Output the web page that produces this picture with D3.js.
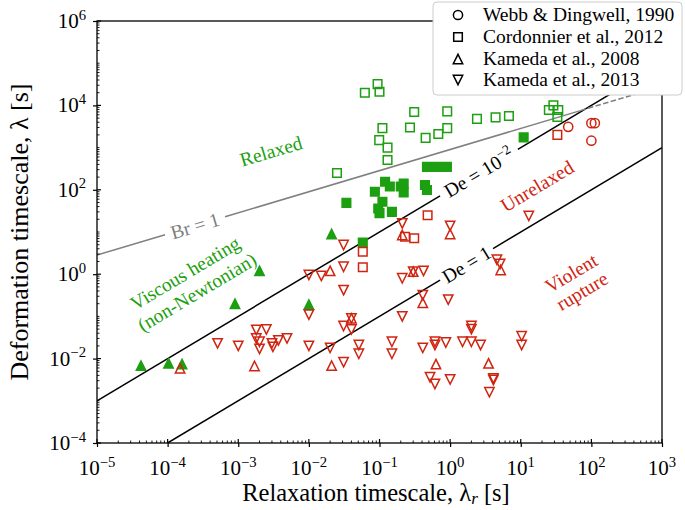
<!DOCTYPE html>
<html><head><meta charset="utf-8">
<script src="https://cdn.jsdelivr.net/npm/d3@7"></script>
<style>body{margin:0;background:#fff}svg{display:block;font-family:"Liberation Serif","Times New Roman",serif}</style>
</head><body><svg id="c" width="685" height="510"></svg>
<script>
// ---- data: [relaxation timescale λr (s), deformation timescale λ (s)] ----
const webb1990 = [[47,3100],[100,3800],[112,3800],[100,1460]];
const cordonnierRelaxed = [[0.094,3.2e4],[0.062,2.0e4],[0.10,2.1e4],[0.31,7.0e3],[0.91,7.2e3],[2.4,4.8e3],
  [0.11,2.9e3],[0.27,3.0e3],[0.91,2.9e3],[0.68,2.1e3],[0.45,1.7e3],[0.099,1.5e3],[0.13,1.0e3],[0.13,510],
  [0.025,250],[4.4,5.2e3],[6.8,5.6e3],[25,7.8e3],[29,1.0e4],[34,7.8e3],[33,5.3e3]];
const cordonnierViscous = [[11,1750],[0.47,350],[0.65,350],[0.90,350],[0.12,155],[0.14,120],[0.086,90],
  [0.11,52],[0.096,36],[0.10,28],[0.15,30],[0.20,120],[0.22,140],[0.22,87],[0.44,130],[0.47,99],[0.034,49],[0.058,5.6]];
const cordonnierUnrelaxed = [[33,2.0e3],[0.48,25],[0.31,7.1],[0.23,7.7],[0.058,3.4],[0.058,1.46]];
const kameda2008Viscous = [[0.002,1.2],[9.0e-4,0.20],[0.021,9.0],[0.010,0.19],[4.2e-5,6.8e-3],[1.03e-4,7.7e-3],[1.6e-4,7.4e-3]];
const kameda2008Unrelaxed = [[1.5e-4,5.9e-3],[1.7e-3,6.7e-3],[0.021,6.8e-3],[0.020,1.2],[0.21,8.5],[1.0,9.0],[5.2,1.26],
  [0.41,0.21],[0.30,1.15],[0.040,0.090],[0.63,7.4e-3],[3.5,7.7e-3]];
const kameda2013 = [[0.21,16],[1.0,14],[0.031,4.9],[0.010,0.96],[0.015,0.91],[0.031,1.5],[0.031,0.42],[0.21,0.80],
  [0.30,1.15],[0.42,1.2],[0.41,0.32],[0.94,0.25],[13,24],[4.6,2.2],[5.1,1.75],
  [5.1e-4,0.023],[1.0e-3,0.020],[1.8e-3,0.048],[2.5e-3,0.049],[1.8e-3,0.030],[2.0e-3,0.025],[2.0e-3,0.017],
  [3.0e-3,0.023],[3.1e-3,0.019],[3.7e-3,0.027],[4.9e-3,0.030],
  [0.010,0.11],[0.031,0.059],[0.040,0.090],[0.040,0.049],[0.21,0.10],[0.010,0.020],[0.020,0.018],[0.031,8.2e-3],
  [0.051,0.021],[0.051,0.013],[0.15,0.025],[0.15,0.013],[0.41,0.018],[0.61,0.025],[0.61,0.021],[0.87,0.024],
  [0.52,3.6e-3],[0.61,2.5e-3],[1.0,3.2e-3],[1.5,0.025],[2.0,0.025],[2.0,0.059],[2.0,0.050],[2.7,0.021],
  [10.3,0.034],[10.3,0.021],[4.1,3.4e-3],[4.1,3.1e-3],[3.6,1.6e-3]];
const xTickExps = [-5,-4,-3,-2,-1,0,1,2,3];
const yTickExps = [-4,-2,0,2,4,6];
const legendLabels = ["Webb & Dingwell, 1990","Cordonnier et al., 2012","Kameda et al., 2008","Kameda et al., 2013"];
const legendShapes = ["circle","square","up","down"];
// guide lines: De = λr/λ ; Br = 1 line λ = brCoef * λr^0.5
const brCoef = 900;

const GREEN = "#1c9f10", RED = "#cf2410";
const svg = d3.select("#c");
const x = d3.scaleLog().domain([1e-5,1e3]).range([97,662]);
const y = d3.scaleLog().domain([1e-4,1e6]).range([443,21]);

const plot = svg.append("g");
plot.append("clipPath").attr("id","clip").append("rect").attr("x",97).attr("y",21).attr("width",565).attr("height",422);
const clipped = plot.append("g").attr("clip-path","url(#clip)");

// ---- guide lines ----
const line = d3.line().x(d=>x(d[0])).y(d=>y(d[1]));
function deSeg(de, a, b){ return [[a,a/de],[b,b/de]]; }
function stroke(p,c){ return p.attr("stroke",c).attr("stroke-width",1.5).attr("fill","none"); }
stroke(clipped.append("path").attr("d",line(deSeg(1,1e-4,0.72))),"#000");
stroke(clipped.append("path").attr("d",line(deSeg(1,4.05,1e3))),"#000");
stroke(clipped.append("path").attr("d",line(deSeg(1e-2,1e-5,0.72))),"#000");
stroke(clipped.append("path").attr("d",line(deSeg(1e-2,9.1,1e3))),"#000");
const br = v => [v, brCoef*Math.sqrt(v)];
stroke(clipped.append("path").attr("d",line([br(1e-5),br(9.2e-5)])),"#808080");
stroke(clipped.append("path").attr("d",line([br(6.5e-4),br(70)])),"#808080");
stroke(clipped.append("path").attr("d",line([br(70),br(1e3)])),"#808080").attr("stroke-dasharray","5.5,2.4");

// ---- markers ----
function shapePath(shape){
  if(shape==="square"){const s=4.3;return `M${-s},${-s}h${2*s}v${2*s}h${-2*s}Z`;}
  if(shape==="up"){const s=4.7;return `M0,${-s}L${s},${s}L${-s},${s}Z`;}
  if(shape==="down"){const s=4.7;return `M0,${s}L${s},${-s}L${-s},${-s}Z`;}
  const r=4.6;return `M${r},0A${r},${r} 0 1,1 ${-r},0A${r},${r} 0 1,1 ${r},0Z`;
}
function drawSet(data, shape, color, filled){
  plot.append("g").selectAll("path").data(data).join("path")
    .attr("d",shapePath(shape))
    .attr("transform",d=>`translate(${x(d[0])},${y(d[1])})`)
    .attr("fill",filled?color:"none").attr("stroke",color).attr("stroke-width",1.5);
}
drawSet(cordonnierRelaxed,"square",GREEN,false);
drawSet(cordonnierViscous,"square",GREEN,true);
drawSet(kameda2008Viscous,"up",GREEN,true);
drawSet(webb1990,"circle",RED,false);
drawSet(cordonnierUnrelaxed,"square",RED,false);
drawSet(kameda2008Unrelaxed,"up",RED,false);
drawSet(kameda2013,"down",RED,false);

// ---- annotations ----
const angDe = -Math.atan((y(1)-y(10))/(x(10)-x(1)))*180/Math.PI;
const angBr = -Math.atan(0.5*(y(1)-y(10))/(x(10)-x(1)))*180/Math.PI;
function label(cx, cy, ang, color, size, parts){
  const t = svg.append("text").attr("transform",`translate(${cx},${cy}) rotate(${ang})`)
    .attr("text-anchor","middle").attr("fill",color).attr("font-size",size).attr("dy","0.35em");
  parts.forEach(p=>{
    const ts = t.append("tspan").text(p.t);
    if(p.sup){ts.attr("font-size",size*0.7).attr("dy",-size*0.4);}
  });
  return t;
}
const AF = 19.5;
label(x(Math.sqrt(0.72*4.05)), y(Math.sqrt(0.72*4.05)), angDe, "#000", AF, [{t:"De = 1"}]);
label(x(Math.sqrt(0.72*9.1)), y(100*Math.sqrt(0.72*9.1)), angDe, "#000", AF, [{t:"De = 10"},{t:"−2",sup:true}]);
label(x(2.44e-4), y(brCoef*Math.sqrt(2.44e-4)), angBr, "#808080", AF, [{t:"Br = 1"}]);
label(271, 151, angBr, GREEN, AF, [{t:"Relaxed"}]);
label(185, 273, angDe, GREEN, AF, [{t:"Viscous heating"}]);
label(197, 292, angDe, GREEN, AF, [{t:"(non-Newtonian)"}]);
label(537, 186, angDe, RED, AF, [{t:"Unrelaxed"}]);
label(571, 273, angDe, RED, AF, [{t:"Violent"}]);
label(582, 291, angDe, RED, AF, [{t:"rupture"}]);

// ---- axes ----
const ax = svg.append("g").attr("stroke","#000");
ax.append("rect").attr("x",97).attr("y",21).attr("width",565).attr("height",422).attr("fill","none").attr("stroke-width",1.3);
const xAxis = d3.axisBottom(x).tickValues(xTickExps.map(e=>Math.pow(10,e))).tickSize(4).tickFormat("");
const gx = svg.append("g").attr("transform","translate(0,443)").call(xAxis);
gx.select(".domain").remove();
gx.selectAll("line").attr("stroke-width",1.2);
const yAxis = d3.axisLeft(y).tickValues(yTickExps.map(e=>Math.pow(10,e))).tickSize(4).tickFormat("");
const gy = svg.append("g").attr("transform","translate(97,0)").call(yAxis);
gy.select(".domain").remove();
gy.selectAll("line").attr("stroke-width",1.2);
const xMinor=[], yMinor=[];
for(let e=-5;e<3;e++) for(let k=2;k<10;k++) xMinor.push(k*Math.pow(10,e));
for(let e=-4;e<6;e++) for(let k=1;k<10;k++){ if(k===1 && e%2===0) continue; yMinor.push(k*Math.pow(10,e)); }
ax.selectAll("line.xmaj").data(xTickExps).join("line").attr("x1",e=>x(Math.pow(10,e))).attr("x2",e=>x(Math.pow(10,e))).attr("y1",443).attr("y2",439).attr("stroke-width",1.2);
ax.selectAll("line.ymaj").data(yTickExps).join("line").attr("y1",e=>y(Math.pow(10,e))).attr("y2",e=>y(Math.pow(10,e))).attr("x1",97).attr("x2",101).attr("stroke-width",1.2);
ax.selectAll("line.xmin").data(xMinor).join("line").attr("class","xmin").attr("x1",d=>x(d)).attr("x2",d=>x(d)).attr("y1",443).attr("y2",440.5).attr("stroke-width",0.9);
ax.selectAll("line.ymin").data(yMinor).join("line").attr("class","ymin").attr("y1",d=>y(d)).attr("y2",d=>y(d)).attr("x1",97).attr("x2",99.5).attr("stroke-width",0.9);

const TF = 21;
function powLabel(sel){
  sel.append("tspan").text("10");
  sel.append("tspan").text(d=>d<0?"−"+(-d):String(d)).attr("font-size",TF*0.7).attr("dy",-TF*0.4);
}
svg.append("g").selectAll("text").data(xTickExps).join("text")
  .attr("x",e=>x(Math.pow(10,e))).attr("y",475).attr("text-anchor","middle").attr("font-size",TF).call(powLabel);
svg.append("g").selectAll("text").data(yTickExps).join("text")
  .attr("x",86).attr("y",e=>y(Math.pow(10,e))+7).attr("text-anchor","end").attr("font-size",TF).call(powLabel);

// axis titles
const XF = 24.5;
const xt = svg.append("text").attr("x",376).attr("y",501).attr("text-anchor","middle").attr("font-size",XF);
xt.append("tspan").text("Relaxation timescale, λ");
xt.append("tspan").text("r").attr("font-style","italic").attr("font-size",XF*0.7).attr("dy",3);
xt.append("tspan").text(" [s]").attr("dy",-3);
svg.append("text").attr("transform","translate(28,232) rotate(-90)").attr("text-anchor","middle").attr("font-size",26)
  .text("Deformation timescale, λ [s]");

// ---- legend ----
const lg = svg.append("g");
lg.append("rect").attr("x",433).attr("y",2).attr("width",249).attr("height",93).attr("rx",4)
  .attr("fill","#fff").attr("stroke","#cccccc").attr("stroke-width",1);
const rowsY = [15,37,59,80];
legendLabels.forEach((lab,i)=>{
  lg.append("path").attr("d",shapePath(legendShapes[i])).attr("transform",`translate(458,${rowsY[i]})`)
    .attr("fill","none").attr("stroke","#000").attr("stroke-width",1.5);
  lg.append("text").attr("x",483).attr("y",rowsY[i]+6).attr("font-size",19.5).text(lab);
});
</script></body></html>
